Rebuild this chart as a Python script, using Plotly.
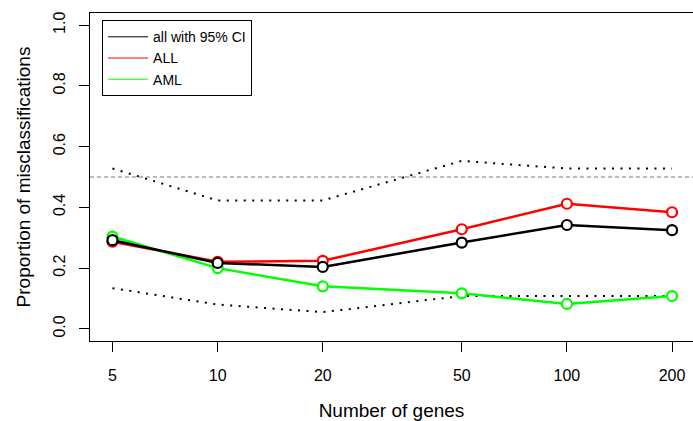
import plotly.graph_objects as go

# misclassification rates by number of genes used
genes = [5, 10, 20, 50, 100, 200]
err_all = [0.292, 0.217, 0.204, 0.284, 0.342, 0.325]
err_ALL = [0.287, 0.221, 0.224, 0.328, 0.412, 0.384]
err_AML = [0.304, 0.200, 0.140, 0.117, 0.082, 0.108]
ci_upper = [0.528, 0.423, 0.423, 0.553, 0.528, 0.528]
ci_lower = [0.134, 0.080, 0.055, 0.108, 0.108, 0.108]
chance_level = 0.5

tick_vals = [5, 10, 20, 50, 100, 200]
tick_text = ['5', '10', '20', '50', '100', '200']

font = 'Liberation Sans, Arial, sans-serif'

fig = go.Figure()

# confidence band, dotted
for ci in [ci_upper, ci_lower]:
    fig.add_trace(go.Scatter(x=genes, y=ci, mode='lines',
                             line=dict(color='black', width=2, dash='2px,6.5px'),
                             showlegend=False, hoverinfo='skip'))

# the three error curves (R type="b" look: open circles over the line)
for ys, col in [(err_ALL, '#ff0000'), (err_AML, '#00ff00'), (err_all, 'black')]:
    fig.add_trace(go.Scatter(x=genes, y=ys, mode='lines+markers',
                             line=dict(color=col, width=2.5),
                             marker=dict(symbol='circle', size=10, color='white',
                                         line=dict(color=col, width=2.2)),
                             showlegend=False))

# legend-only entries with thin lines
for name, col in [('all with 95% CI', 'black'), ('ALL', '#ff0000'), ('AML', '#00ff00')]:
    fig.add_trace(go.Scatter(x=[None], y=[None], mode='lines', name=name,
                             line=dict(color=col, width=1)))

fig.add_hline(y=chance_level, line=dict(color='#777777', width=1, dash='4px,3px'))

fig.update_layout(
    width=693, height=421,
    margin=dict(l=90, r=0, t=13, b=80),
    plot_bgcolor='white', paper_bgcolor='white',
    font=dict(family=font, size=16, color='black'),
    legend=dict(x=0.02, y=0.978, xanchor='left', yanchor='top',
                bordercolor='black', borderwidth=1, bgcolor='white',
                font=dict(size=14), tracegroupgap=0, itemwidth=40),
    showlegend=True,
)

fig.update_xaxes(type='log', range=[0.6346, 2.361], automargin=False,
                 tickvals=tick_vals, ticktext=tick_text,
                 showgrid=False, zeroline=False,
                 showline=True, linecolor='black', linewidth=1, mirror=True,
                 ticks='outside', ticklen=10, tickcolor='black',
                 ticklabelstandoff=10,
                 title=dict(text='Number of genes', standoff=22))

fig.update_yaxes(range=[-0.04, 1.04], automargin=False,
                 tickvals=[0, 0.2, 0.4, 0.6, 0.8, 1.0],
                 ticktext=['0.0', '0.2', '0.4', '0.6', '0.8', '1.0'],
                 tickangle=-90,
                 showgrid=False, zeroline=False,
                 showline=True, linecolor='black', linewidth=1,
                 ticks='outside', ticklen=10, tickcolor='black',
                 ticklabelstandoff=8,
                 title=dict(text='Proportion of misclassifications', standoff=14))

# drop the browser's default 8px body margin so the figure sits at 0,0
fig.write_html("out.html", config={'displayModeBar': False},
               post_script="document.body.style.margin='0';")
